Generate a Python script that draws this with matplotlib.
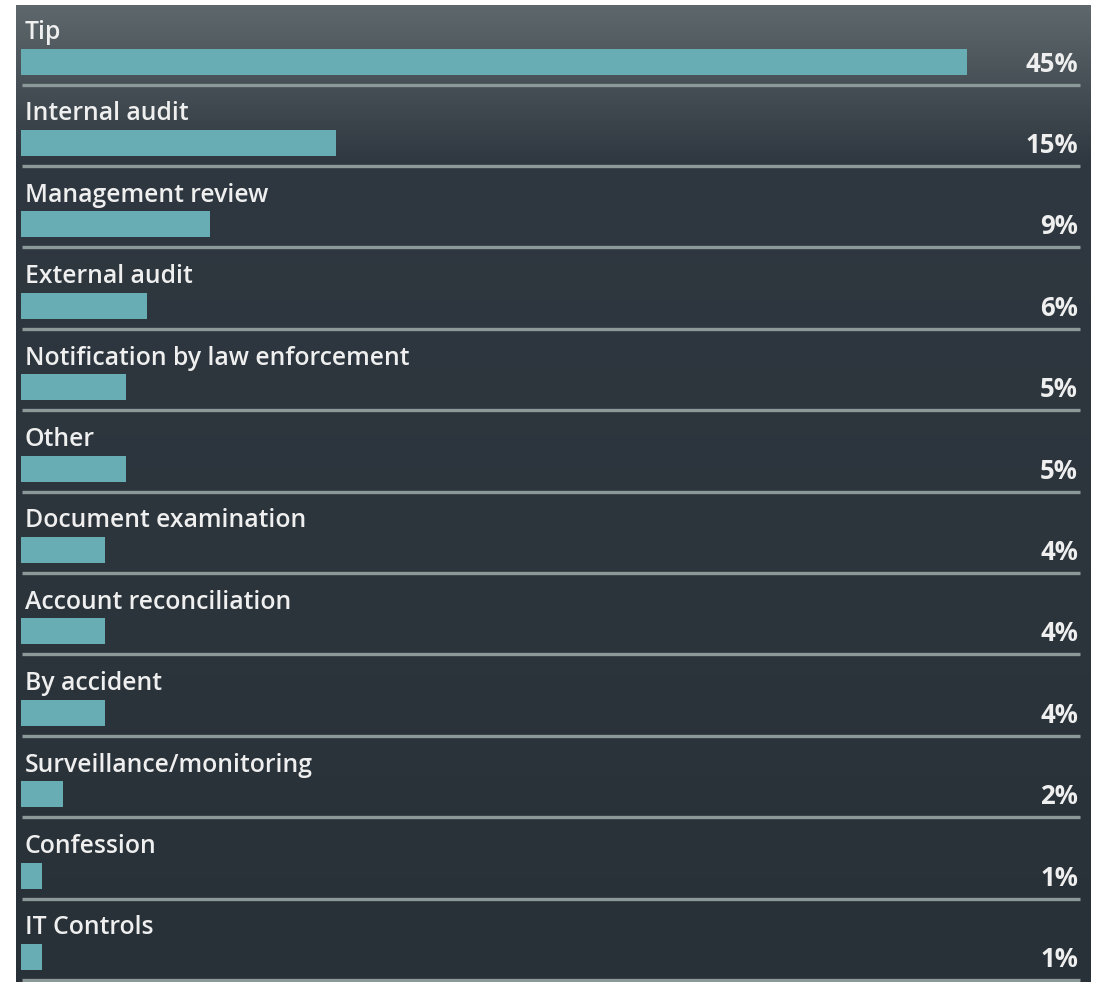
import numpy as np
import matplotlib
matplotlib.use("Agg")
import matplotlib.pyplot as plt

# Detection methods and share of cases (%)
categories = [
    "Tip", "Internal audit", "Management review", "External audit",
    "Notification by law enforcement", "Other", "Document examination",
    "Account reconciliation", "By accident", "Surveillance/monitoring",
    "Confession", "IT Controls",
]
values = [45, 15, 9, 6, 5, 5, 4, 4, 4, 2, 1, 1]
value_labels = [f"{v}%" for v in values]

W, H = 1100, 982
fig = plt.figure(figsize=(W / 100, H / 100), dpi=100, facecolor="white")

# Panel placement (pixels)
px_left, px_right, px_top, px_bottom = 16, 1091, 5, 982
pos = [px_left / W, 1 - px_bottom / H, (px_right - px_left) / W, (px_bottom - px_top) / H]

# Dark gradient panel background
bg = fig.add_axes(pos)
bg.set_axis_off()
ny = 400
t = np.linspace(0, 1, ny)[:, None]
top = np.array([0x5e, 0x68, 0x6c]) / 255
mid = np.array([0x2f, 0x38, 0x40]) / 255
bot = np.array([0x29, 0x31, 0x38]) / 255
w1 = np.clip(t / 0.16, 0, 1)
w2 = np.clip((t - 0.16) / 0.84, 0, 1)
grad = np.where(t < 0.16, (1 - w1) * top + w1 * mid, (1 - w2) * mid + w2 * bot)
img = np.repeat(grad[:, None, :], 2, axis=1).reshape(ny, 2, 3)
bg.imshow(img, aspect="auto", extent=[0, 1, 0, 1], interpolation="bilinear")
bg.set_xlim(0, 1)
bg.set_ylim(0, 1)

ax = fig.add_axes(pos)
ax.patch.set_alpha(0)
ax.set_axis_off()

# Scale: bar origin at pixel 21, 21.02 px per percentage point
x0_px, px_per = 21, 21.02
ax.set_xlim((px_left - x0_px) / px_per, (px_right - x0_px) / px_per)
sep0, row_px = 84.6, 81.4
ax.set_ylim(1 + (px_bottom - sep0) / row_px, 1 + (px_top - sep0) / row_px)

n = len(categories)
rows = np.arange(n)
bar_centers = rows + 1 - 0.283
ax.barh(bar_centers, values, height=0.32, left=0, color="#67adb3", zorder=2)

font = "Open Sans"
txt_color = "#eeefee"
for i, (cat, lab) in enumerate(zip(categories, value_labels)):
    ax.text(0.17, i + 1 - 0.64, cat, ha="left", va="center", fontsize=17.8,
            color=txt_color, family=font, fontweight="semibold", zorder=3)
    ax.text(50.29, bar_centers[i] + 0.03, lab, ha="right", va="center", fontsize=18.5,
            color=txt_color, family=font, fontweight="bold", zorder=3)

# Row separators
ax.hlines(rows + 1, 0.05, 50.38, colors="#8b9a98", linewidth=2.4, zorder=1)

fig.savefig("out.png", dpi=100, facecolor="white")
